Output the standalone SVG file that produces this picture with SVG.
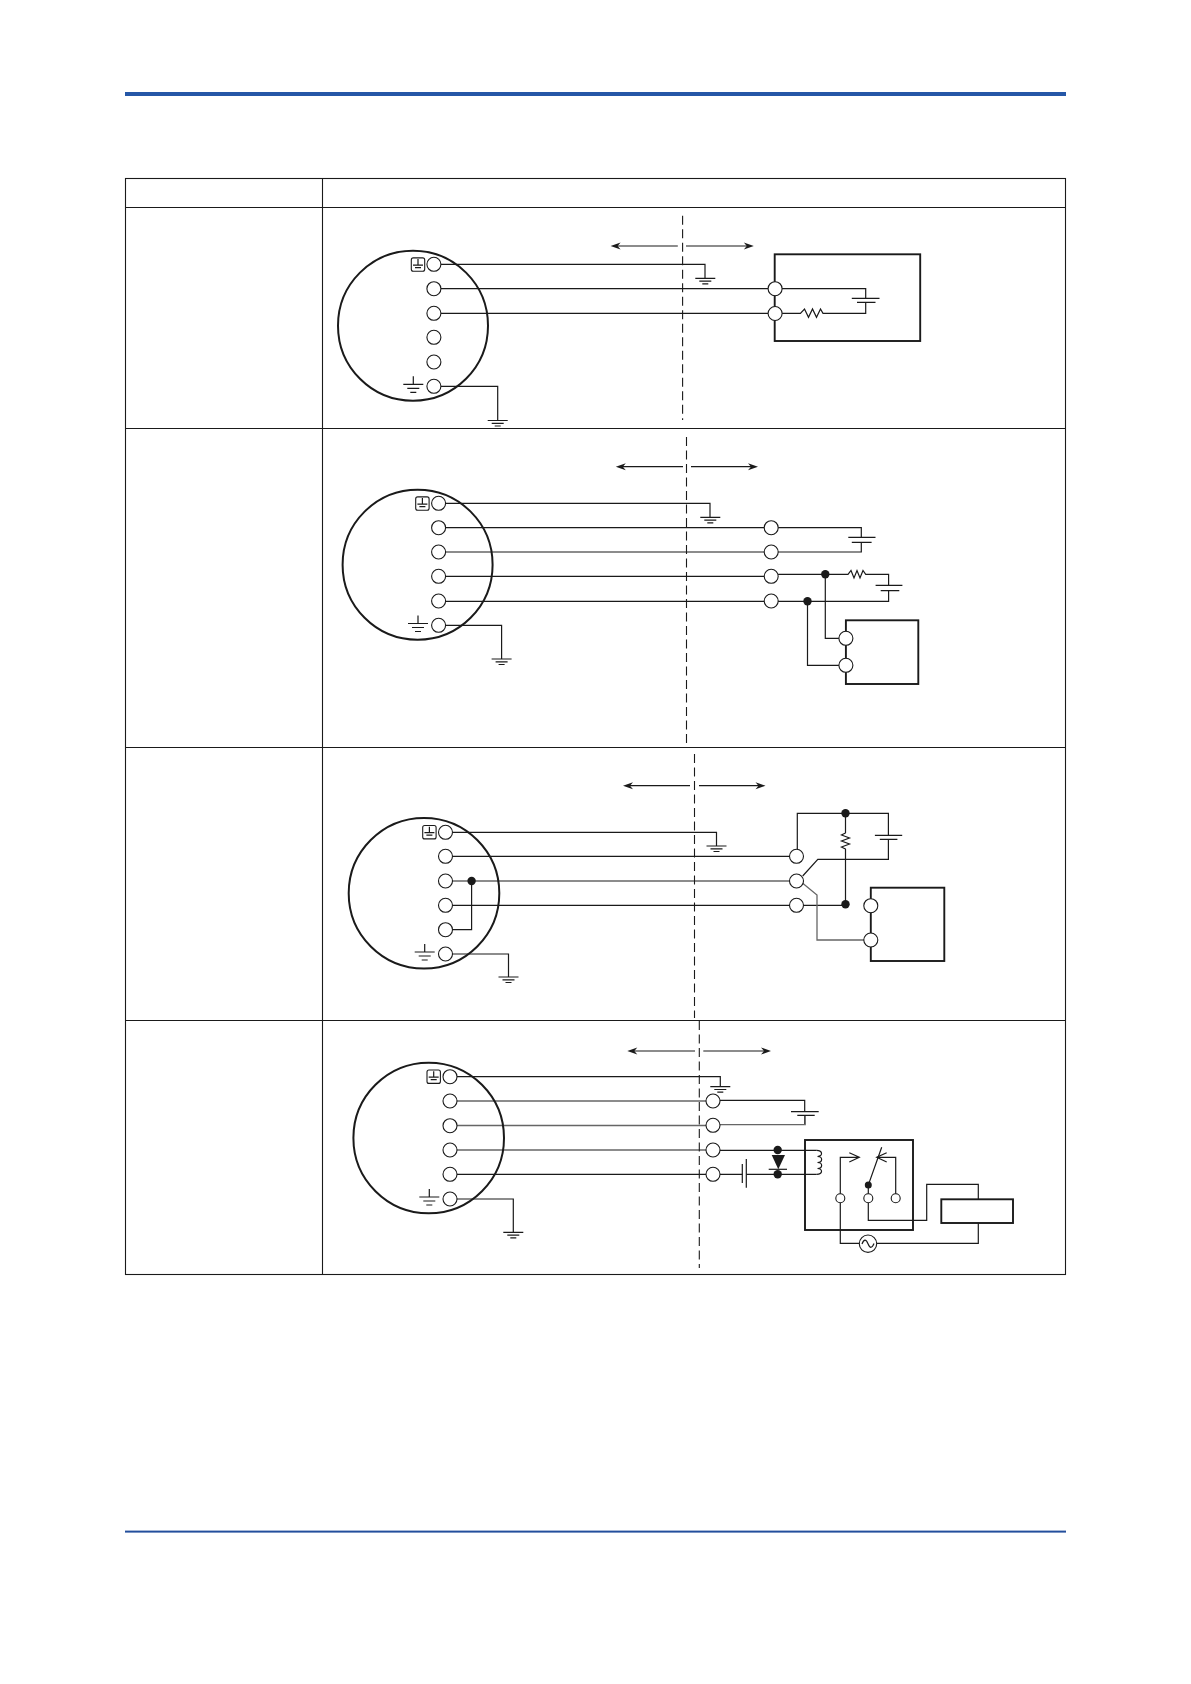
<svg xmlns="http://www.w3.org/2000/svg" xmlns:xlink="http://www.w3.org/1999/xlink" width="1191" height="1684" viewBox="0 0 1191 1684">
<style>
.w{fill:none;stroke:#1a1a1a;stroke-width:1.2}
.g{fill:none;stroke:#666;stroke-width:1.3}
.t{fill:#fff;stroke:#1a1a1a;stroke-width:1.1}
.c{fill:none;stroke:#1a1a1a;stroke-width:2}
.b{fill:none;stroke:#1a1a1a;stroke-width:1.9}
.n{fill:#1a1a1a;stroke:none}
.tl{fill:none;stroke:#1a1a1a;stroke-width:1.1}
.d{fill:none;stroke:#1a1a1a;stroke-width:1.1;stroke-dasharray:9 4.5}
.h{fill:#1a1a1a;stroke:none}
</style>
<defs>
<g id="gnd"><path class="w" d="M-10 0H10M-6 2.8H6M-3 5.5H3"/></g>
<g id="eb"><rect x="-6.7" y="-6.7" width="13.4" height="13.4" rx="2" fill="none" stroke="#1a1a1a" stroke-width="1.1"/><path class="w" d="M0 -5.5V.5M-5 .5H5M-3 3H3"/></g>
<g id="eg"><path class="w" d="M0 -8V0M-10 0H10M-6 4H6M-3 8H3"/></g>
<path id="al" class="h" d="M0 0L10 -3.5L7 0L10 3.5Z"/>
<path id="ar" class="h" d="M0 0L-10 -3.5L-7 0L-10 3.5Z"/>
</defs>

<g id="page">
<rect x="125" y="92" width="941" height="4" fill="#2557a7"/>
<rect x="125" y="1530.6" width="941" height="2" fill="#234f9c"/>
</g>
<g id="table">
<rect class="tl" x="125.5" y="178.5" width="940" height="1096"/>
<path class="tl" d="M322.5 178.5V1274.5M125.5 207.5H1065.5M125.5 428.5H1065.5M125.5 747.5H1065.5M125.5 1020.5H1065.5"/>
</g>

<g id="connectors">
<!-- panel 1 -->
<path class="d" d="M682.6 215.7V420"/>
<path class="w" d="M617 246H677.8M686 246H747"/>
<path class="w" d="M441 264.3H705V278.3"/>
<path class="w" d="M441 288.7H768M441 313.3H768"/>
<path class="w" d="M782 288.7H865.7V298.3M865.7 302.3V313.3H823L820.5 309L816.5 317.3L812.5 309L808.5 317.3L804.5 309L800.4 313.3H782"/>
<path class="w" d="M441 386.3H497.7V420"/>
<!-- panel 2 -->
<path class="d" d="M686.5 437V745"/>
<path class="w" d="M622 466.7H683M691 466.7H752"/>
<path class="w" d="M445.6 503.3H710V517.3"/>
<path class="w" d="M445.6 527.7H764M445.6 552H764M445.6 576.3H764M445.6 601.3H764"/>
<path class="w" d="M778 527.7H861.3V537.3M861.3 542.3V552H778"/>
<path class="w" d="M778 574.3H848L851 570.5L854 578L857 570.5L860 578L863 570.5L865.7 574.3H888.6V585.3M888.6 590.7V601.3H778"/>
<path class="w" d="M825.3 574.3V638.3H839M807.5 601.3V665.3H839"/>
<path class="w" d="M445.6 625.3H501.6V659"/>
<!-- panel 3 -->
<path class="d" d="M694.5 754V1018"/>
<path class="w" d="M629 785.7H690M699 785.7H760"/>
<path class="w" d="M452.5 832.3H716.5V846"/>
<path class="w" d="M452.5 856.3H789.5M452.5 881H789.5M452.5 905.3H789.5"/>
<path class="w" d="M471.6 881V929.7H452.5"/>
<path class="w" d="M797.3 849V813.3H888.4V835.3M888.4 839.3V859.3H817.8L802.7 876"/>
<path class="w" d="M845.5 813.3V833L841.5 835L849.5 838L841.5 841L849.5 844L841.5 847L845.5 849V904.3M803.5 905.3H845.5"/>
<path class="g" d="M802.7 883.3L817 895V940H864"/>
<path class="w" d="M452.5 954H508.5V977"/>
<!-- panel 4 -->
<path class="d" d="M699.3 1021V1268"/>
<path class="w" d="M633 1051H695M703.3 1051H765"/>
<path class="w" d="M457 1076.7H720.3V1086.7"/>
<path class="w" d="M457 1101H706"/>
<path class="g" d="M457 1125.5H706"/>
<path class="w" d="M457 1150H706M457 1174.3H706"/>
<path class="w" d="M720 1100.3H804.7V1111.7M804.7 1115.3V1124"/>
<path class="g" d="M720 1124.7H805.2V1115.5"/>
<path class="w" d="M720 1150.3H816.7M720 1174.3H742.3M746.3 1174.3H816.7"/>
<path class="w" d="M816.7 1150.3C823 1150.3 823 1156.5 817.5 1156.5C823 1156.5 823 1162.5 817.5 1162.5C823 1162.5 823 1168.5 817.5 1168.5C823 1168.5 823 1174.3 816.7 1174.3"/>
<path class="w" d="M742.3 1164V1183M746.3 1159V1187.7"/>
<path class="w" d="M840.3 1194V1157.3H859M849.3 1152.7L859.3 1157.3L849.3 1162"/>
<path class="w" d="M895.7 1194V1157.3H876.7M886.7 1152.7L876.7 1157.3L886.7 1162"/>
<path class="w" d="M868.3 1194V1185L881.7 1147.3"/>
<path class="w" d="M868.3 1202.7V1220.3H926.7V1184.3H978.3V1199.3"/>
<path class="w" d="M978.3 1223V1243.3H876.7M859.3 1243.3H840.3V1202.7"/>
<path class="w" d="M457 1199H513.3V1232.3"/>
</g>

<g id="arrowheads">
<use xlink:href="#al" href="#al" x="610.6" y="246"/><use xlink:href="#ar" href="#ar" x="753.8" y="246"/>
<use xlink:href="#al" href="#al" x="615.8" y="466.7"/><use xlink:href="#ar" href="#ar" x="758" y="466.7"/>
<use xlink:href="#al" href="#al" x="623" y="785.7"/><use xlink:href="#ar" href="#ar" x="765.5" y="785.7"/>
<use xlink:href="#al" href="#al" x="627.3" y="1051"/><use xlink:href="#ar" href="#ar" x="771" y="1051"/>
</g>

<g id="grounds">
<use xlink:href="#gnd" href="#gnd" x="705.3" y="278.3"/><use xlink:href="#gnd" href="#gnd" x="497.7" y="420.5"/>
<use xlink:href="#gnd" href="#gnd" x="710.3" y="517.3"/><use xlink:href="#gnd" href="#gnd" x="501.6" y="659"/>
<use xlink:href="#gnd" href="#gnd" x="716.5" y="846"/><use xlink:href="#gnd" href="#gnd" x="508.5" y="977"/>
<use xlink:href="#gnd" href="#gnd" x="720.3" y="1086.7"/><use xlink:href="#gnd" href="#gnd" x="513.3" y="1232.3"/>
</g>
<g id="batteries">
<path class="w" d="M851.8 298.3H879.5M857 302.3H875.5"/>
<path class="w" d="M848.3 537.3H875.5M851.8 542.3H871.6"/>
<path class="w" d="M875.6 585.3H902.4M880.7 590.7H899.3"/>
<path class="w" d="M874.9 835.3H902.2M879.8 839.3H897.4"/>
<path class="w" d="M791 1111.7H818.7M797.3 1115.3H814.7"/>
</g>

<g id="transmitter-1">
<circle class="c" cx="413" cy="325.7" r="75"/>
<use xlink:href="#eb" href="#eb" x="418" y="264.6"/>
<use xlink:href="#eg" href="#eg" x="413.3" y="384.3"/>
<circle class="t" cx="433.9" cy="264.3" r="7"/><circle class="t" cx="433.9" cy="288.7" r="7"/><circle class="t" cx="433.9" cy="313.3" r="7"/><circle class="t" cx="433.9" cy="337.3" r="7"/><circle class="t" cx="433.9" cy="362" r="7"/><circle class="t" cx="433.9" cy="386.3" r="7"/>
</g>
<g id="receiver-1">
<rect class="b" x="774.7" y="254.3" width="145.5" height="86.7"/>
<circle class="t" cx="775.1" cy="288.7" r="7"/><circle class="t" cx="775.1" cy="313.5" r="7"/>
</g>

<g id="transmitter-2">
<circle class="c" cx="417.6" cy="564.7" r="75"/>
<use xlink:href="#eb" href="#eb" x="422.4" y="503.6"/>
<use xlink:href="#eg" href="#eg" x="418" y="623.5"/>
<circle class="t" cx="438.6" cy="503.3" r="7"/><circle class="t" cx="438.6" cy="527.7" r="7"/><circle class="t" cx="438.6" cy="552" r="7"/><circle class="t" cx="438.6" cy="576.3" r="7"/><circle class="t" cx="438.6" cy="601" r="7"/><circle class="t" cx="438.6" cy="625.3" r="7"/>
</g>
<g id="terminals-2">
<circle class="t" cx="771.2" cy="527.7" r="7"/><circle class="t" cx="771.2" cy="552" r="7"/><circle class="t" cx="771.2" cy="576.3" r="7"/><circle class="t" cx="771.2" cy="601" r="7"/>
<circle class="n" cx="825.3" cy="574.3" r="4.2"/><circle class="n" cx="807.5" cy="601.3" r="4.2"/>
</g>
<g id="receiver-2">
<rect class="b" x="845.9" y="620.3" width="72.4" height="63.7"/>
<circle class="t" cx="845.9" cy="638.3" r="7"/><circle class="t" cx="845.9" cy="665.3" r="7"/>
</g>

<g id="transmitter-3">
<circle class="c" cx="424" cy="893.3" r="75.3"/>
<use xlink:href="#eb" href="#eb" x="429.4" y="832.2"/>
<use xlink:href="#eg" href="#eg" x="424.7" y="952"/>
<circle class="t" cx="445.5" cy="832.3" r="7"/><circle class="t" cx="445.5" cy="856.3" r="7"/><circle class="t" cx="445.5" cy="881" r="7"/><circle class="t" cx="445.5" cy="905.3" r="7"/><circle class="t" cx="445.5" cy="929.7" r="7"/><circle class="t" cx="445.5" cy="954" r="7"/>
<circle class="n" cx="471.6" cy="881" r="4.2"/>
</g>
<g id="terminals-3">
<circle class="t" cx="796.5" cy="856.3" r="7"/><circle class="t" cx="796.5" cy="881" r="7"/><circle class="t" cx="796.5" cy="905.3" r="7"/>
<circle class="n" cx="845.5" cy="813.3" r="4.2"/><circle class="n" cx="845.5" cy="904.3" r="4.2"/>
</g>
<g id="receiver-3">
<rect class="b" x="870.8" y="887.7" width="73.5" height="73.3"/>
<circle class="t" cx="870.8" cy="905.7" r="7"/><circle class="t" cx="870.8" cy="940" r="7"/>
</g>

<g id="transmitter-4">
<circle class="c" cx="428.7" cy="1138" r="75.3"/>
<use xlink:href="#eb" href="#eb" x="433.7" y="1076.7"/>
<use xlink:href="#eg" href="#eg" x="429.3" y="1197"/>
<circle class="t" cx="450" cy="1076.7" r="7"/><circle class="t" cx="450" cy="1101" r="7"/><circle class="t" cx="450" cy="1125.7" r="7"/><circle class="t" cx="450" cy="1150" r="7"/><circle class="t" cx="450" cy="1174.3" r="7"/><circle class="t" cx="450" cy="1199" r="7"/>
</g>
<g id="terminals-4">
<circle class="t" cx="713" cy="1101" r="7"/><circle class="t" cx="713" cy="1125.3" r="7"/><circle class="t" cx="713" cy="1150" r="7"/><circle class="t" cx="713" cy="1174.3" r="7"/>
</g>
<g id="diode">
<path class="n" d="M771.7 1155H785L778.3 1169.3Z"/>
<path class="w" d="M768.7 1169.3H787"/>
<circle class="n" cx="777.7" cy="1150" r="4.2"/><circle class="n" cx="777.7" cy="1174.3" r="4.2"/>
</g>
<g id="relay">
<rect class="b" x="805" y="1140" width="108" height="90"/>
<circle class="t" cx="840.3" cy="1198.3" r="4.5"/><circle class="t" cx="868.3" cy="1198.3" r="4.5"/><circle class="t" cx="895.7" cy="1198.3" r="4.5"/>
<circle class="n" cx="868.3" cy="1185" r="3.5"/>
</g>
<g id="load">
<rect class="b" x="941.3" y="1199.3" width="71.7" height="23.7"/>
</g>
<g id="ac-source">
<circle class="t" cx="868" cy="1243.7" r="8.7"/>
<path class="w" d="M862 1244C864 1239 866 1239 868 1243.7C870 1248.5 872 1248.5 874 1243.5"/>
</g>
</svg>
